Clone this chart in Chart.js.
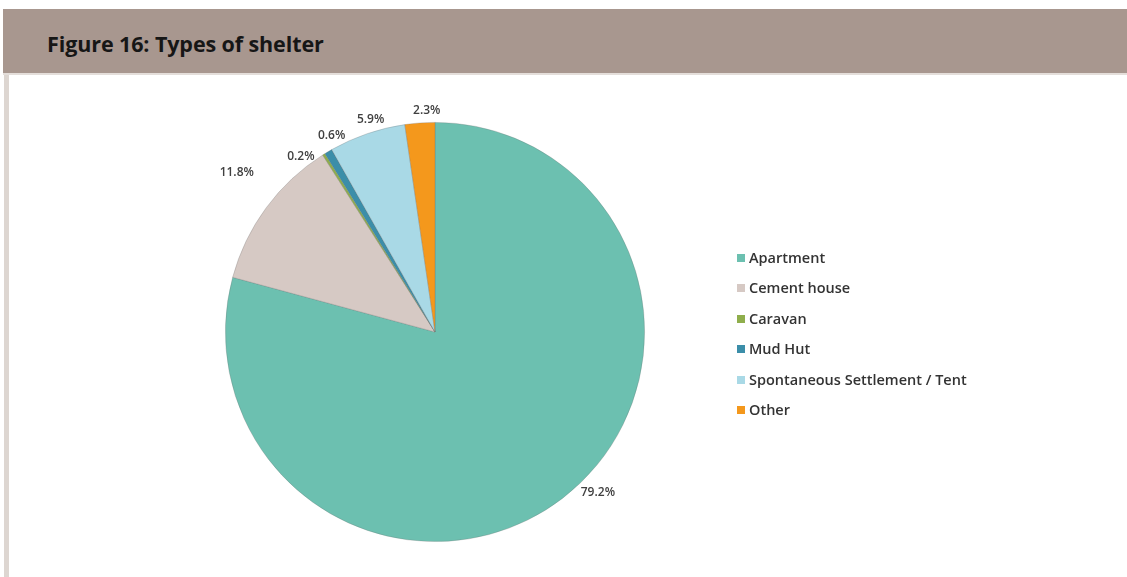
<!DOCTYPE html>
<html>
<head>
<meta charset="utf-8">
<script src="https://cdn.jsdelivr.net/npm/chart.js@4"></script>
<style>
  body { margin: 0; width: 1127px; height: 577px; background: #fff; position: relative; overflow: hidden; font-family: "Open Sans", sans-serif; }
  #header { position: absolute; left: 3px; right: 0; top: 9px; height: 64px; background: #a8978f; border-bottom: 2px solid #e4deda; }
  #header span { position: absolute; left: 44px; top: 20px; font-weight: 700; font-size: 21.5px; color: #161616; letter-spacing: -0.1px; }
  #sidebar { position: absolute; left: 4px; top: 75px; width: 5px; bottom: 0; background: #ddd6d1; }
  #wrap { position: absolute; left: 10px; top: 76px; width: 1117px; height: 501px; }
  #legend { position: absolute; left: 737px; top: 248px; font-size: 14.5px; font-weight: 600; color: #333; }
  #legend div { height: 30.4px; line-height: 19px; white-space: nowrap; }
  #legend i { display: inline-block; width: 8px; height: 8px; margin-right: 4px; vertical-align: 1px; }
</style>
</head>
<body>
<div id="header"><span>Figure 16: Types of shelter</span></div>
<div id="sidebar"></div>
<div id="wrap"><canvas id="shelterChart"></canvas></div>
<div id="legend"></div>
<script>
// Shelter types (share of households, %)
const shelterTypes = [
  "Apartment",
  "Cement house",
  "Caravan",
  "Mud Hut",
  "Spontaneous Settlement / Tent",
  "Other"
];

const shelterShares = [79.2, 11.8, 0.2, 0.6, 5.9, 2.3];

const sliceColors = ['#6cc0b0', '#d6c9c4', '#8fae4c', '#3b8ea9', '#a9d9e6', '#f4981c'];

// label nudges: [angle shift in degrees, distance beyond the rim]
const labelNudge = [[-8, 19], [2.5, 45], [-5.4, 11], [2.8, 12], [2, 12], [2, 12]];

// html legend
const legendEl = document.getElementById('legend');
shelterTypes.forEach((name, i) => {
  const row = document.createElement('div');
  row.innerHTML = '<i style="background:' + sliceColors[i] + '"></i>' + name;
  legendEl.appendChild(row);
});

// draws the % labels outside each slice
const outsideLabels = {
  id: 'outsideLabels',
  afterDatasetsDraw(chart) {
    const ctx = chart.ctx;
    const arcs = chart.getDatasetMeta(0).data;
    ctx.save();
    ctx.font = '600 12px "Open Sans"';
    ctx.fillStyle = '#404040';
    ctx.textAlign = 'center';
    ctx.textBaseline = 'middle';
    arcs.forEach((arc, i) => {
      const mid = (arc.startAngle + arc.endAngle) / 2 + labelNudge[i][0] * Math.PI / 180;
      const dist = arc.outerRadius + labelNudge[i][1];
      const x = arc.x + Math.cos(mid) * dist;
      const y = arc.y + Math.sin(mid) * dist;
      ctx.fillText(shelterShares[i].toFixed(1) + '%', x, y);
    });
    ctx.restore();
  }
};

const ctx = document.getElementById('shelterChart').getContext('2d');
const shelterChart = new Chart(ctx, {
  type: 'pie',
  data: {
    labels: shelterTypes,
    datasets: [{
      data: shelterShares,
      backgroundColor: sliceColors,
      borderColor: 'rgba(110,110,110,0.35)',
      borderWidth: 0.8
    }]
  },
  options: {
    responsive: true,
    maintainAspectRatio: false,
    animation: false,
    layout: {
      padding: { left: 215, right: 482, top: 46, bottom: 35 }
    },
    plugins: {
      legend: { display: false },
      tooltip: { enabled: false }
    }
  },
  plugins: [outsideLabels]
});
</script>
</body>
</html>
